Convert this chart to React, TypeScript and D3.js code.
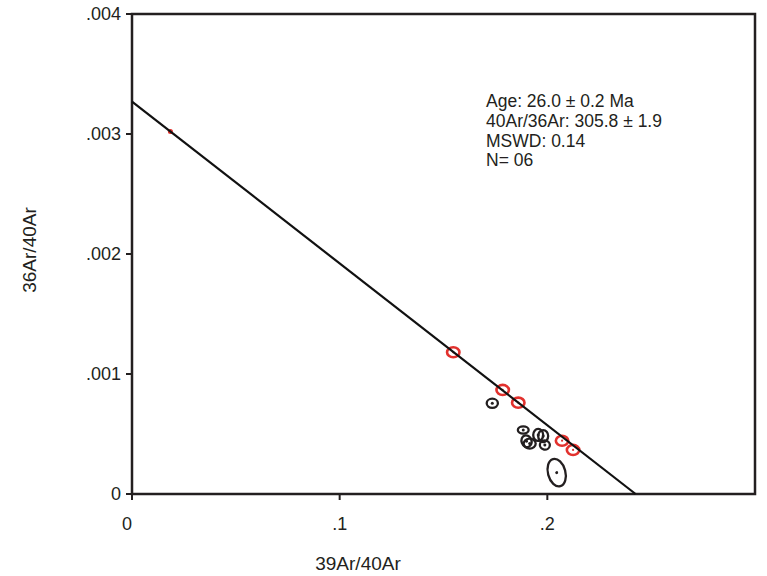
import React from "react";
import * as d3 from "d3";

// Isochron data
const plateauX = [0.0185, 0.1547, 0.1785, 0.186, 0.2071, 0.2124];
const plateauY = [0.00302, 0.001181, 0.000867, 0.000761, 0.000444, 0.000367];
const plateauErrX = [0.0006, 0.003, 0.003, 0.003, 0.003, 0.003];
const plateauErrY = [0.00001, 0.000042, 0.000042, 0.000042, 0.000042, 0.000042];

const otherX = [0.1735, 0.1884, 0.19, 0.1915, 0.1956, 0.198, 0.1988, 0.2045];
const otherY = [0.000756, 0.000533, 0.00044, 0.00042, 0.000492, 0.000483, 0.000408, 0.000178];
const otherErrX = [0.0027, 0.0026, 0.0024, 0.0029, 0.0024, 0.0024, 0.0024, 0.0042];
const otherErrY = [0.000038, 0.00003, 0.00005, 0.000042, 0.00005, 0.00005, 0.000038, 0.000117];
const otherAngle = [0, 0, -20, 0, 0, 0, 10, -15];

const isoIntercept = 0.00327; // 36Ar/40Ar at x=0
const isoXIntercept = 0.2425; // 39Ar/40Ar at y=0

const xTicks = [0, 0.1, 0.2];
const xTickLabels = ["0", ".1", ".2"];
const yTicks = [0, 0.001, 0.002, 0.003, 0.004];
const yTickLabels = ["0", ".001", ".002", ".003", ".004"];

const infoLines = ["Age: 26.0 \u00b1 0.2 Ma", "40Ar/36Ar: 305.8 \u00b1 1.9", "MSWD: 0.14", "N= 06"];

const W = 767;
const H = 576;
const FONT = "'Liberation Sans', Arial, sans-serif";
const INK = "#231f20";
const RED = "#e2312d";

export default function App() {
  const x = d3.scaleLinear().domain([0, 0.3]).range([132, 755]);
  const y = d3.scaleLinear().domain([0, 0.004]).range([494, 14]);

  const line = d3
    .line<[number, number]>()
    .x((d) => x(d[0]))
    .y((d) => y(d[1]));

  const rx = (e: number) => x(e) - x(0);
  const ry = (e: number) => y(0) - y(e);

  return (
    <svg
      width={W}
      height={H}
      style={{ position: "absolute", left: 0, top: 0, background: "#fff" }}
      fontFamily={FONT}
    >
      <rect x={0} y={0} width={W} height={H} fill="#fff" />
      {/* frame */}
      <rect
        x={x(0)}
        y={y(0.004)}
        width={x(0.3) - x(0)}
        height={y(0) - y(0.004)}
        fill="none"
        stroke={INK}
        strokeWidth={2.5}
      />
      {/* y ticks */}
      {yTicks.map((t, i) => (
        <g key={"yt" + i}>
          <line x1={x(0) - 6} x2={x(0)} y1={y(t)} y2={y(t)} stroke={INK} strokeWidth={2} />
          <text
            x={x(0) - 11}
            y={y(t)}
            dy="0.36em"
            textAnchor="end"
            fontSize={18}
            fill={INK}
          >
            {yTickLabels[i]}
          </text>
        </g>
      ))}
      {/* x ticks */}
      {xTicks.map((t, i) => (
        <g key={"xt" + i}>
          <line x1={x(t)} x2={x(t)} y1={y(0)} y2={y(0) + 6} stroke={INK} strokeWidth={2} />
          <text
            x={x(t) + (i === 0 ? -5 : 0)}
            y={530}
            textAnchor="middle"
            fontSize={18}
            fill={INK}
          >
            {xTickLabels[i]}
          </text>
        </g>
      ))}
      {/* axis titles */}
      <text x={358} y={570} textAnchor="middle" fontSize={19} fill={INK}>
        39Ar/40Ar
      </text>
      <text
        transform={`translate(36,250) rotate(-90)`}
        textAnchor="middle"
        fontSize={19}
        fill={INK}
      >
        36Ar/40Ar
      </text>

      {/* other (excluded) steps */}
      {otherX.map((vx, i) => (
        <g key={"o" + i} transform={`translate(${x(vx)},${y(otherY[i])}) rotate(${otherAngle[i]})`}>
          <ellipse rx={rx(otherErrX[i])} ry={ry(otherErrY[i])} fill="none" stroke={INK} strokeWidth={2.3} />
          <circle r={1.5} fill={INK} />
        </g>
      ))}
      {/* isochron steps */}
      {plateauX.map((vx, i) => (
        <g key={"p" + i} transform={`translate(${x(vx)},${y(plateauY[i])})`}>
          <ellipse rx={rx(plateauErrX[i])} ry={ry(plateauErrY[i])} fill={i === 0 ? RED : "none"} stroke={RED} strokeWidth={2.6} />
          {i > 0 && <circle r={1.1} fill={RED} />}
        </g>
      ))}

      {/* isochron line */}
      <path
        d={line([
          [0, isoIntercept],
          [isoXIntercept, 0],
        ]) || ""}
        stroke="#111"
        strokeWidth={2.2}
        fill="none"
      />

      {/* info text */}
      {infoLines.map((s, i) => (
        <text key={"info" + i} x={486} y={107 + i * 19.8} fontSize={17.5} fill={INK}>
          {s}
        </text>
      ))}
    </svg>
  );
}
